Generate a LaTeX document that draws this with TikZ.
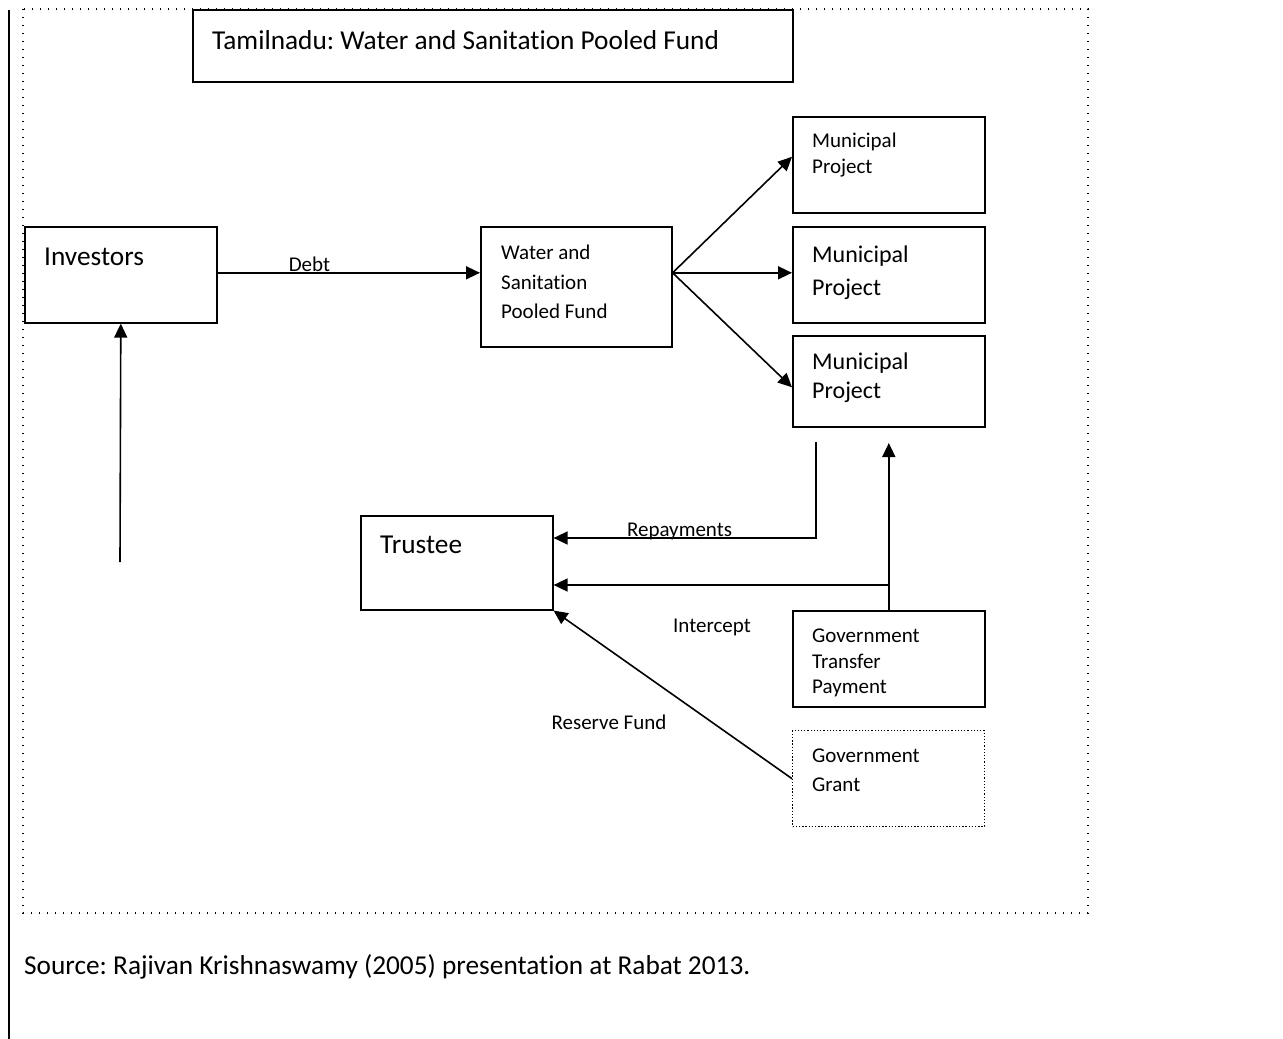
\documentclass[tikz,border=0pt]{standalone}
\usepackage{fontspec}
\setmainfont{Carlito}[Ligatures=NoCommon]
\usetikzlibrary{arrows.meta,positioning,calc}
\definecolor{ink}{HTML}{000000}
\frenchspacing
\tikzset{
  arr/.style={-{Triangle[length=14pt,width=13pt]}, line width=1.6pt, draw=ink},
  figbase/.style={
    x=1pt, y=-1pt,
    color=ink,
    line join=miter,
  },
  box/.style={
    draw=ink, line width=1.6pt,
    anchor=north west,
    minimum width=192pt, minimum height=96pt,
    inner sep=0pt,
  },
  boxdot/.style={box, line width=1.3pt, dash pattern=on 1.3pt off 1.9pt},
  framedot/.style={draw=ink, line width=1.4pt, dash pattern=on 1.4pt off 6.6pt},
  big/.style={font=\fontsize{27.3}{33}\selectfont, anchor=west, inner sep=0pt, align=left},
  mid/.style={font=\fontsize{24}{31}\selectfont, anchor=west, inner sep=0pt, align=left},
  small/.style={font=\fontsize{21}{27}\selectfont, anchor=west, inner sep=0pt, align=left},
  lab/.style={font=\fontsize{21}{25}\selectfont, inner sep=1pt},
}
\begin{document}
\begin{tikzpicture}[figbase]
  \useasboundingbox (0,0) rectangle (1283,1039);
  % page rule and dotted frame
  \coordinate (rtop) at (9,10);
  \coordinate (rbot) at (9,1039);
  \draw[line width=1.6pt] (rtop) -- (rbot);
  \draw[framedot] (23,9) rectangle (1088,913);

  % boxes
  \node[box, minimum width=600pt, minimum height=72pt] (title) at (192,9) {};
  \node[big] (title-t) at (212,40) {Tamilnadu: Water and Sanitation Pooled Fund};

  \node[box] (inv) at (24,226) {};
  \node[big] (inv-t) at (44,257) {Investors};

  \node[box, minimum width=191pt, minimum height=120pt] (fund) at (480,226) {};
  \node[small, font=\fontsize{21}{29.5}\selectfont] (fund-t) at (501,282) {Water and\\Sanitation\\Pooled Fund};

  \node[box] (mp1) at (792,116) {};
  \node[small, font=\fontsize{21}{26}\selectfont] (mp1-t) at (812,155) {Municipal\\Project};
  \node[box] (mp2) at (792,226) {};
  \node[mid, font=\fontsize{24}{33}\selectfont] (mp2-t) at (812,273) {Municipal\\Project};
  \node[box, minimum height=91pt] (mp3) at (792,335) {};
  \node[mid, font=\fontsize{24}{29}\selectfont] (mp3-t) at (812,378) {Municipal\\Project};

  \node[box, minimum height=94pt] (tru) at (360,515) {};
  \node[big] (tru-t) at (380,545) {Trustee};

  \node[box] (gtp) at (792,610) {};
  \node[small, font=\fontsize{21}{25.5}\selectfont] (gtp-t) at (812,663) {Government\\Transfer\\Payment};
  \node[boxdot] (ggr) at (792,730) {};
  \node[small, font=\fontsize{21}{29}\selectfont] (ggr-t) at (812,770) {Government\\Grant};

  \node[big] (src) at (24,967) {Source: Rajivan Krishnaswamy (2005) presentation at Rabat 2013.};

  % connectors
  \coordinate (dl) at ($(inv.east)+(0,-2)$);
  \draw[arr] (dl) -- (dl -| fund.west)
    node[lab, pos=0.35, anchor=base, yshift=1pt] {Debt};

  \coordinate (fan) at (fund.east |- dl);
  \draw[arr] (fan) -- ($(mp1.west)+(0,-8)$);
  \draw[arr] (fan) -- (fan -| mp2.west);
  \draw[arr] (fan) -- ($(mp3.west)+(0,6)$);

  \coordinate (rp) at (816,442);
  \draw[arr] (rp) |- ($(tru.north east)+(0,23)$)
    node[lab, pos=0.76, anchor=base, yshift=1.5pt] {Repayments};

  \coordinate (ict) at ($(gtp.north)+(0,-167)$);
  \coordinate (icj) at ($(gtp.north)+(0,-25)$);
  \draw[arr] (gtp.north) -- (ict);
  \draw[arr] (icj) -- (icj -| tru.east);
  \node[lab] (ic-l) at (712,627) {Intercept};

  \draw[arr] (ggr.west) -- (tru.south east);
  \node[lab] (rf-l) at (609,722) {Reserve Fund};

  \coordinate (ivb) at (120,562);
  \draw[arr] (ivb) -- (inv.south);
\end{tikzpicture}
\end{document}
